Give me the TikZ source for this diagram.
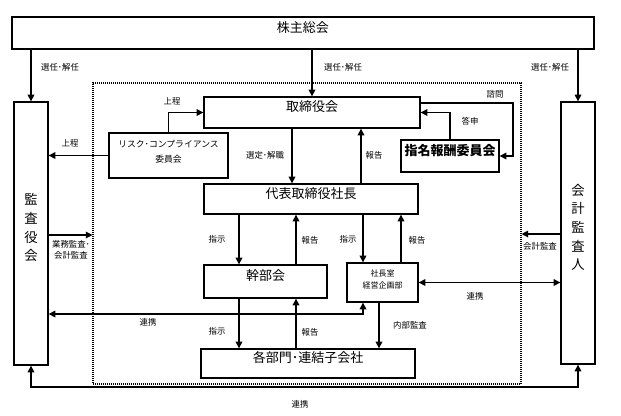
\documentclass[tikz,border=0pt]{standalone}
\usepackage{fontspec}
\setmainfont{Noto Sans CJK JP}
\usetikzlibrary{arrows.meta,fit,calc}
\begin{document}
\begin{tikzpicture}[x=0.75pt,y=-0.75pt,
  box/.style={draw,line width=1pt,inner sep=0pt,font=\fontsize{9.75}{11}\selectfont},
  arr/.style={line width=0.9pt,-{Triangle[length=5pt,width=5pt]}},
  darr/.style={line width=0.9pt,{Triangle[length=5pt,width=5pt]}-{Triangle[length=5pt,width=5pt]}},
  lbl/.style={font=\fontsize{6.3}{8}\selectfont,inner sep=0pt,align=center}]
\useasboundingbox (0,0) rectangle (621,415);
% dotted frame
\node[draw,dash pattern=on 0.75pt off 0.75pt,line width=0.8pt,inner sep=0pt,fit={(93,83)(521,384)}] (frame) {};
% boxes
\node[box,fit={(12,17)(594,49)}] (sh) {株主総会};
\node[box,fit={(14,102)(48,365)},align=center,font=\fontsize{10}{14}\selectfont] (kansa) {監\\査\\役\\会};
\node[box,fit={(561,102)(595,364)},align=center,font=\fontsize{10}{14}\selectfont] (kaikei) {会\\計\\監\\査\\人};
\node[box,fit={(204,97)(420,128)}] (tori) {取締役会};
\node[box,fit={(109,133)(228,178)},align=center,font=\fontsize{6.6}{11}\selectfont] (risk) {リスク･コンプライアンス\\委員会};
\node[box,fit={(401,140)(499,172)},font=\fontsize{9.75}{11}\selectfont\bfseries] (shimei) {指名報酬委員会};
\node[box,fit={(204,184)(418,214)}] (daihyo) {代表取締役社長};
\node[box,fit={(204,265)(327,298)}] (kanbu) {幹部会};
\node[box,fit={(347,263)(418,302)},align=center,font=\fontsize{6}{9}\selectfont] (shacho) {社長室\\経営企画部};
\node[box,fit={(201,349)(415,378)}] (kakubu) {各部門･連結子会社};
% arrows from shareholders
\draw[arr] (kansa.north |- sh.south) -- (kansa.north);
\draw[arr] (tori.north |- sh.south) -- (tori.north);
\draw[arr] (kaikei.north |- sh.south) -- (kaikei.north);
\node[lbl] (l1) at (60,67) {選任･解任};
\node[lbl] (l2) at (343,67) {選任･解任};
\node[lbl] (l3) at (550,67) {選任･解任};
% risk committee
\draw[arr] (risk.west) -- (kansa.east |- risk.west);
\node[lbl] (l4) at (70,143) {上程};
\draw[arr] (risk.north) |- (tori.west);
\node[lbl] (l5) at (172,101) {上程};
% board <-> president
\draw[arr] (tori.south -| 292,0) -- (daihyo.north -| 292,0);
\node[lbl] (l6) at (265,155) {選定･解職};
\draw[arr] (daihyo.north -| 361,0) -- (tori.south -| 361,0);
\node[lbl] (l7) at (374,155) {報告};
% nomination committee
\draw[arr] (shimei.north -| 450,0) |- (tori.east);
\node[lbl] (l8) at (470,121) {答申};
\draw[arr] (tori.east |- 0,103) -| (shimei.east -| 513,0) -- (shimei.east);
\node[lbl] (l9) at (495,94) {諮問};
% audits
\draw[arr] (kaikei.west |- 0,234) -- (frame.east |- 0,234);
\node[lbl] (l10) at (540,246) {会計監査};
\draw[arr] (kansa.east |- 0,235) -- (frame.west |- 0,235);
\node[lbl] (l11) at (71,250) {業務監査･\\会計監査};
% president -> executive committee
\draw[arr] (daihyo.south -| 239,0) -- (kanbu.north -| 239,0);
\node[lbl] (l12) at (217,239) {指示};
\draw[arr] (kanbu.north -| 296,0) -- (daihyo.south -| 296,0);
\node[lbl] (l13) at (310,240) {報告};
\draw[arr] (daihyo.south -| 363,0) -- (shacho.north -| 363,0);
\node[lbl] (l14) at (348,239) {指示};
\draw[arr] (shacho.north -| 401,0) -- (daihyo.south -| 401,0);
\node[lbl] (l15) at (417,240) {報告};
% shacho <-> auditor
\draw[darr] (shacho.east) -- (kaikei.west |- shacho.east);
\node[lbl] (l16) at (475,296) {連携};
\draw[darr] (kansa.east |- 0,314) -| (shacho.south -| 363,0);
\node[lbl] (l17) at (148,322) {連携};
% to departments
\draw[arr] (kanbu.south -| 239,0) -- (kakubu.north -| 239,0);
\node[lbl] (l18) at (217,331) {指示};
\draw[arr] (kakubu.north -| 296,0) -- (kanbu.south -| 296,0);
\node[lbl] (l19) at (310,332) {報告};
\draw[arr] (shacho.south -| 379,0) -- (kakubu.north -| 379,0);
\node[lbl] (l20) at (410,325) {内部監査};
% bottom link
\draw[darr] (kansa.south) -- (kansa.south |- 0,387) -- (kaikei.south |- 0,387) -- (kaikei.south);
\node[lbl] (l21) at (300,404) {連携};
\end{tikzpicture}
\end{document}
